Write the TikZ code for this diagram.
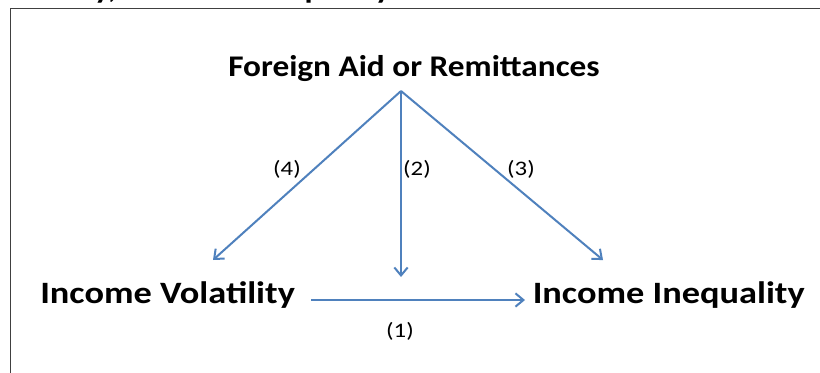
\documentclass[tikz,border=0pt]{standalone}
\usepackage{fontspec}
\setmainfont{Carlito}
\usepackage{graphicx}
\usetikzlibrary{arrows.meta}
\definecolor{arrowblue}{HTML}{4F81BD}
\definecolor{framegray}{HTML}{404040}
\newcommand{\wide}[1]{\scalebox{1.11}[1]{#1}}
\newcommand{\widemain}[1]{\scalebox{1.17}[1]{#1}}
\newcommand{\widenum}[1]{\scalebox{1.2}[1]{#1}}
\tikzset{
  toplabel/.style={inner sep=0pt, font=\bfseries\fontsize{22.5}{27}\selectfont},
  mainlabel/.style={inner sep=0pt, font=\bfseries\fontsize{23.3}{28}\selectfont},
  numlabel/.style={inner sep=0pt, font=\fontsize{15.5}{19}\selectfont},
  link/.style={draw=arrowblue, line width=1.5pt, -{Straight Barb[length=6pt,width=10pt]}},
  frameline/.style={draw=framegray, line width=1.2pt},
}
\begin{document}
\begin{tikzpicture}[x=0.75pt,y=-0.75pt]
\useasboundingbox (0,0) rectangle (820,372);
\fill[white] (0,0) rectangle (820,372);
% cropped title (only descenders visible)
\begin{scope}
  \clip (0,0) rectangle (820,7.5);
  \node[toplabel, anchor=base east] (title1) at (117,-2) {\wide{Income Volatility,}};
  \node[toplabel, anchor=base east] (title2) at (391,-2) {\wide{Income Inequality}};
\end{scope}
% frame
\coordinate (fbl) at (10.5,380);
\coordinate (ftl) at (10.5,8.5);
\coordinate (ftr) at (830,8.5);
\draw[frameline] (fbl) -- (ftl) -- (ftr);
% labels
\node[toplabel, anchor=base] (aid) at (414,76) {\wide{Foreign Aid or Remittances}};
\node[mainlabel, anchor=base west] (vol) at (40,303) {\widemain{Income Volatility}};
\node[mainlabel, anchor=base east] (ineq) at (805,303) {\widemain{Income Inequality}};
% connector points
\coordinate (apex) at (401,91);
\coordinate (t4) at (213,260);
\coordinate (t2) at (401,277);
\coordinate (t3) at (603,260);
\coordinate (h1) at (311,300);
\coordinate (h2) at (525,300);
\draw[link] (apex) -- (t4);
\draw[link] (apex) -- (t2);
\draw[link] (apex) -- (t3);
\draw[link] (h1) -- (h2);
% numbers
\node[numlabel] (n4) at (287,169) {\widenum{(4)}};
\node[numlabel] (n2) at (417,169) {\widenum{(2)}};
\node[numlabel] (n3) at (521,169) {\widenum{(3)}};
\node[numlabel] (n1) at (400,331) {\widenum{(1)}};
\end{tikzpicture}
\end{document}
